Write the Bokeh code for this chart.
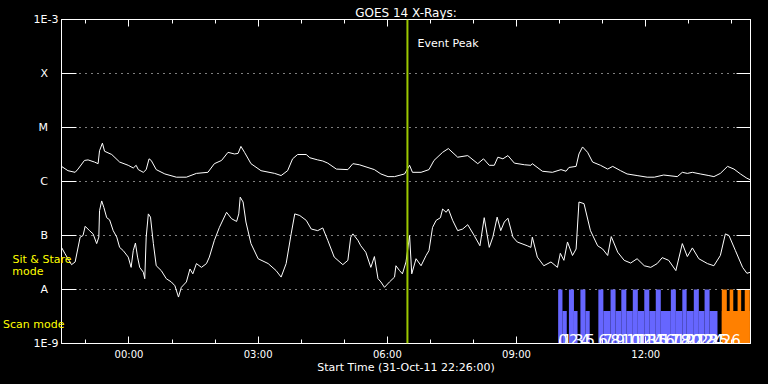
import pandas as pd
import numpy as np
from bokeh.plotting import figure
from bokeh.models import (FixedTicker, DatetimeTickFormatter, LogAxis, DatetimeAxis,
                          Span, Label, ColumnDataSource, Range1d)
from bokeh.core.properties import value
from bokeh.embed import file_html
from bokeh.resources import INLINE

# ---------------- data ----------------
START = pd.Timestamp("2011-10-31 22:26:00")
END = START + pd.Timedelta(hours=16)
PEAK = "06:28"
TITLE = "GOES 14 X-Rays:"

# level ticks of the flux axis
level_vals = [1e-9, 1e-8, 1e-7, 1e-6, 1e-5, 1e-4, 1e-3]
level_labels = ["1E-9", "A", "B", "C", "M", "X", "1E-3"]

# mode captions on the left of the frame
mode_vals = [3.6e-8, 2.15e-8, 2.25e-9]
mode_labels = ["Sit & Stare", "mode", "Scan mode"]

# time ticks
major_hours = ["2011-11-01 00:00", "2011-11-01 03:00", "2011-11-01 06:00",
               "2011-11-01 09:00", "2011-11-01 12:00"]
minor_hours = ["2011-10-31 23:00"] + ["2011-11-01 %02d:00" % h for h in range(0, 15)]

# long channel (1-8 A): minutes after start, log10 flux
long_min = [0, 9, 19, 23, 32, 37, 46, 51, 53, 57, 60, 70, 81, 93, 100, 104, 107, 114, 118, 122,
            125, 132, 144, 160, 174, 188, 204, 213, 223, 232, 241, 246, 250, 255, 264, 278, 297,
            306, 315, 322, 329, 341, 346, 357, 364, 371, 383, 399, 406, 415, 436, 445, 455, 464,
            478, 485, 489, 501, 512, 519, 531, 539, 552, 566, 580, 588, 596, 603, 608, 615, 622,
            631, 645, 654, 656, 670, 684, 696, 703, 707, 717, 721, 726, 733, 740, 751, 761, 768,
            779, 788, 802, 816, 826, 839, 858, 865, 872, 879, 890, 902, 909, 918, 928, 937, 946,
            955, 960]
long_logf = [-5.72, -5.80, -5.83, -5.77, -5.61, -5.60, -5.64, -5.67, -5.43, -5.29, -5.44, -5.50,
             -5.64, -5.70, -5.75, -5.70, -5.78, -5.83, -5.78, -5.58, -5.61, -5.78, -5.86, -5.92,
             -5.92, -5.85, -5.83, -5.67, -5.61, -5.46, -5.49, -5.48, -5.35, -5.46, -5.67, -5.80,
             -5.85, -5.89, -5.80, -5.58, -5.50, -5.50, -5.56, -5.60, -5.62, -5.66, -5.77, -5.78,
             -5.67, -5.69, -5.78, -5.86, -5.91, -5.91, -5.86, -5.70, -5.83, -5.83, -5.78, -5.61,
             -5.46, -5.39, -5.55, -5.52, -5.67, -5.58, -5.70, -5.70, -5.55, -5.58, -5.52, -5.66,
             -5.69, -5.70, -5.67, -5.81, -5.83, -5.78, -5.81, -5.74, -5.72, -5.49, -5.36, -5.46,
             -5.64, -5.70, -5.77, -5.72, -5.80, -5.86, -5.89, -5.92, -5.92, -5.88, -5.91, -5.83,
             -5.85, -5.83, -5.86, -5.89, -5.91, -5.85, -5.72, -5.77, -5.86, -5.94, -5.97]

# short channel (0.5-4 A): minutes after start, log10 flux
short_min = [0, 5, 9, 14, 19, 26, 30, 33, 39, 44, 49, 52, 53, 56, 59, 63, 67, 72, 77, 81,
             86, 93, 97, 100, 103, 106, 109, 114, 116, 118, 121, 124, 128, 132, 139, 146, 153,
             158, 163, 167, 174, 179, 183, 188, 195, 202, 206, 213, 220, 230, 237, 244, 247, 249,
             253, 257, 264, 274, 288, 299, 306, 313, 320, 325, 332, 341, 348, 357, 364, 371, 380,
             392, 399, 403, 406, 413, 417, 424, 431, 436, 441, 445, 450, 457, 464, 466, 471, 475,
             480, 485, 488, 494, 501, 508, 512, 517, 522, 528, 531, 536, 539, 545, 552, 559, 566,
             575, 583, 589, 596, 601, 607, 612, 617, 622, 629, 635, 649, 654, 656, 663, 672, 682,
             691, 695, 700, 705, 712, 717, 721, 728, 737, 747, 754, 761, 766, 775, 784, 793, 802,
             812, 821, 830, 837, 846, 856, 865, 872, 879, 888, 900, 909, 918, 925, 930, 939, 949,
             955, 960]
short_logf = [-7.22, -7.34, -7.43, -7.54, -7.49, -7.03, -7.00, -6.83, -6.91, -6.97,
              -7.15, -7.03, -6.54, -6.36, -6.48, -6.67, -6.71, -6.91, -7.03, -7.22,
              -7.28, -7.40, -7.59, -7.28, -7.14, -7.40, -7.59, -7.68, -7.80, -7.03,
              -6.60, -6.66, -7.15, -7.56, -7.65, -7.80, -7.86, -7.93, -8.14, -7.96,
              -7.86, -7.62, -7.71, -7.52, -7.59, -7.52, -7.40, -7.09, -6.85, -6.57,
              -6.69, -6.74, -6.60, -6.29, -6.38, -6.75, -7.15, -7.43, -7.52, -7.65,
              -7.77, -7.52, -6.97, -6.60, -6.63, -6.72, -6.88, -6.91, -6.86, -7.09,
              -7.40, -7.54, -7.46, -7.03, -6.97, -7.09, -7.19, -7.31, -7.59, -7.39,
              -7.80, -7.86, -7.96, -7.86, -7.77, -7.56, -7.65, -7.71, -7.49, -7.00,
              -7.71, -7.43, -7.56, -7.37, -7.28, -6.85, -6.72, -6.67, -6.51, -6.57,
              -6.51, -6.72, -6.91, -6.88, -6.80, -7.00, -7.19, -6.67, -7.22, -7.03,
              -6.66, -6.91, -6.75, -6.68, -7.03, -7.12, -7.19, -7.22, -7.03, -7.40,
              -7.56, -7.49, -7.59, -7.33, -7.46, -7.12, -7.37, -7.25, -6.38, -6.41,
              -6.91, -7.19, -7.25, -7.37, -7.02, -7.31, -7.46, -7.51, -7.43, -7.56,
              -7.59, -7.52, -7.41, -7.46, -7.65, -7.15, -7.39, -7.23, -7.43, -7.52,
              -7.56, -7.37, -6.97, -7.00, -7.28, -7.59, -7.70, -7.68]

# observations (2011-11-01): sit & stare (tall) alternating with scans (short)
obs_start = ["09:58", "10:04", "10:13", "10:20", "10:29", "10:36", "10:54", "11:01", "11:11",
             "11:18", "11:26", "11:33", "11:42", "11:49", "11:58", "12:05", "12:14", "12:21",
             "12:35", "12:42", "12:51", "12:57", "13:07", "13:14", "13:22", "13:29"]
obs_end = ["10:04", "10:10", "10:20", "10:25", "10:36", "10:42", "11:01", "11:11", "11:18",
           "11:26", "11:33", "11:42", "11:49", "11:58", "12:05", "12:14", "12:21", "12:35",
           "12:42", "12:51", "12:57", "13:07", "13:14", "13:22", "13:29", "13:40"]
obs_mode = ["stare", "scan"] * 13
# second program (orange): one scan block with stare sub-exposures
orange_start = "13:46"
orange_end = "14:25"
orange_stare_start = ["13:46", "13:57", "14:08", "14:18"]
orange_stare_end = ["13:53", "14:02", "14:13", "14:25"]
orange_id = "26"

STARE_TOP = 1e-8
SCAN_TOP = 4e-9
BASE = 1e-9

# ---------------- helpers ----------------
def ms(ts):
    return pd.Timestamp(ts).timestamp() * 1000.0

def day(hm):
    return ms("2011-11-01 " + hm)

start_ms = ms(START)
end_ms = ms(END)

FONT = "DejaVu Sans"
WHITE = "white"
YEL = "#ffff00"

p = figure(width=768, height=384, x_axis_type="datetime", y_axis_type="log",
           x_range=Range1d(start_ms, end_ms), y_range=Range1d(1e-9, 1e-3),
           output_backend="svg", toolbar_location=None,
           background_fill_color="black", border_fill_color="black",
           min_border_left=60, min_border_right=18, min_border_top=19, min_border_bottom=41,
           outline_line_color=WHITE, outline_line_width=1)

p.title.text = TITLE
p.title.align = "center"
p.title.text_color = WHITE
p.title.text_font = FONT
p.title.text_font_size = "12px"
p.title.text_font_style = "normal"
p.title.standoff = 0
p.title.offset = 0

x_ticker = FixedTicker(ticks=[ms(t) for t in major_hours], minor_ticks=[ms(t) for t in minor_hours])
fmt = DatetimeTickFormatter(hours="%H:%M", hourmin="%H:%M", minutes="%H:%M", days="%H:%M")

# bottom axis
xa = p.below[0]
xa.ticker = x_ticker
xa.formatter = fmt
xa.axis_line_color = WHITE
xa.major_tick_line_color = WHITE
xa.minor_tick_line_color = WHITE
xa.major_tick_in = 7
xa.major_tick_out = 0
xa.minor_tick_in = 4
xa.minor_tick_out = 0
xa.major_label_text_color = WHITE
xa.major_label_text_font = FONT
xa.major_label_text_font_size = "10px"
xa.major_label_standoff = 5
xa.axis_label = "Start Time (%s)" % START.strftime("%d-%b-%y %H:%M:%S")
xa.axis_label_text_color = WHITE
xa.axis_label_text_font = FONT
xa.axis_label_text_font_size = "11px"
xa.axis_label_text_font_style = "normal"
xa.axis_label_standoff = -2

# top axis (ticks only; its labels are not painted)
blank_x = {ms(t): "\u00a0" for t in major_hours}
xt = DatetimeAxis(ticker=x_ticker, formatter=fmt, axis_line_color=WHITE,
                  major_tick_line_color=WHITE, minor_tick_line_color=WHITE,
                  major_tick_in=7, major_tick_out=0, minor_tick_in=4, minor_tick_out=0,
                  major_label_text_color=None, major_label_text_font_size="1px",
                  major_label_standoff=0, major_label_overrides=blank_x)
p.add_layout(xt, "above")

# left axis
y_ticker = FixedTicker(ticks=level_vals, minor_ticks=[])
ya = p.left[0]
ya.ticker = y_ticker
ya.axis_line_color = WHITE
ya.major_tick_line_color = WHITE
ya.minor_tick_line_color = None
ya.major_tick_in = 15
ya.major_tick_out = 0
ya.major_label_text_color = WHITE
ya.major_label_text_font = FONT
ya.major_label_text_font_size = "11px"
ya.major_label_standoff = 3
ya.major_label_overrides = {v: (lab if len(lab) > 1 else lab + "\u00a0\u00a0\u00a0")
                            for v, lab in zip(level_vals, level_labels)}

# outer left axis carrying the yellow mode captions (no line, no ticks)
pads = ["", "\u00a0" * 8, "\u00a0" * 2]
ym = LogAxis(ticker=FixedTicker(ticks=mode_vals, minor_ticks=[]),
             axis_line_color=None, major_tick_line_color=None, minor_tick_line_color=None,
             major_tick_in=0, major_tick_out=0,
             major_label_text_color=YEL, major_label_text_font=FONT,
             major_label_text_font_size="11px", major_label_standoff=-41,
             major_label_overrides={v: lab + pad for v, lab, pad in zip(mode_vals, mode_labels, pads)})
p.add_layout(ym, "left")

# right axis (ticks only; its labels are not painted)
yr = LogAxis(ticker=y_ticker, axis_line_color=WHITE, major_tick_line_color=WHITE,
             minor_tick_line_color=None, major_tick_in=14, major_tick_out=0,
             major_label_text_color=None, major_label_text_font_size="1px",
             major_label_standoff=0,
             major_label_overrides={v: "\u00a0" for v in level_vals})
p.add_layout(yr, "right")

p.xgrid.visible = False
p.ygrid.ticker = FixedTicker(ticks=level_vals[1:-1], minor_ticks=[])
p.ygrid.grid_line_color = WHITE
p.ygrid.grid_line_dash = "1 5"
p.ygrid.grid_line_width = 1

# ---------------- curves ----------------
long_src = ColumnDataSource(dict(x=[start_ms + m * 60000 for m in long_min],
                                 y=[10 ** v for v in long_logf]))
short_src = ColumnDataSource(dict(x=[start_ms + m * 60000 for m in short_min],
                                  y=[10 ** v for v in short_logf]))
p.line("x", "y", source=long_src, line_color=WHITE, line_width=1)
p.line("x", "y", source=short_src, line_color=WHITE, line_width=1)

# ---------------- observation bars ----------------
BLUE = "#6666ff"
ORANGE = "#ff8000"
obs_src = ColumnDataSource(dict(
    left=[day(t) for t in obs_start], right=[day(t) for t in obs_end],
    top=[STARE_TOP if m == "stare" else SCAN_TOP for m in obs_mode],
    bottom=[BASE] * len(obs_start)))
p.quad(left="left", right="right", top="top", bottom="bottom", source=obs_src,
       fill_color=BLUE, line_color=None)
p.quad(left=[day(orange_start)], right=[day(orange_end)], top=[SCAN_TOP], bottom=[BASE],
       fill_color=ORANGE, line_color=None)
p.quad(left=[day(t) for t in orange_stare_start], right=[day(t) for t in orange_stare_end],
       top=[STARE_TOP] * len(orange_stare_start), bottom=[BASE] * len(orange_stare_start),
       fill_color=ORANGE, line_color=None)

lab_x = [day(t) for t in obs_start] + [day(orange_start)]
lab_t = [str(i) for i in range(len(obs_start))] + [orange_id]
p.text(x=lab_x, y=[1.14e-9] * len(lab_x), text=lab_t, text_color=WHITE,
       text_font=value(FONT), text_font_size="15px", text_align="left",
       text_baseline="alphabetic")

# ---------------- event peak ----------------
peak_ms = day(PEAK)
p.add_layout(Span(location=peak_ms, dimension="height", line_color="#9cc800", line_width=2))
p.add_layout(Label(x=peak_ms, y=3.6e-4, x_offset=10, text="Event Peak", text_color=WHITE,
                   text_font=FONT, text_font_size="11px", text_baseline="middle"))

html = file_html(p, INLINE)
html = html.replace("<head>", "<head><style>html, body { background: #000; }</style>", 1)
open("out.html", "w").write(html)
